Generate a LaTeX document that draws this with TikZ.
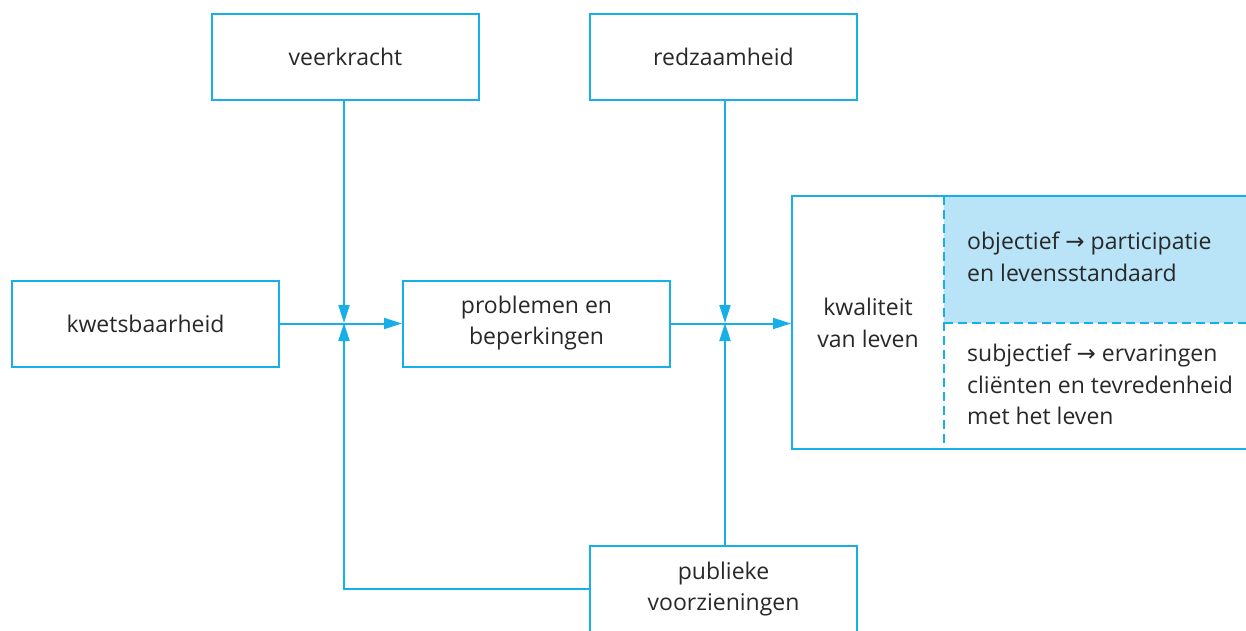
\documentclass[tikz,border=0pt]{standalone}
\usepackage{fontspec}
\setmainfont{Open Sans}
\newfontfamily\arrowfont{DejaVu Sans}
\usetikzlibrary{arrows.meta}
\definecolor{lineblue}{RGB}{22,175,232}
\definecolor{fillblue}{RGB}{185,228,248}
\definecolor{txt}{RGB}{40,40,40}
\newcommand{\ra}{{\arrowfont\fontsize{23}{31}\selectfont →}}
\begin{document}
\begin{tikzpicture}[x=1pt,y=-1pt,
 box/.style={draw=lineblue, line width=2pt, minimum width=267pt, minimum height=86pt, inner sep=0pt, align=center, text=txt, font=\fontsize{23}{31}\selectfont},
 lbl/.style={inner sep=0pt, align=left, text=txt, font=\fontsize{23}{31.5}\selectfont},
 conn/.style={draw=lineblue, line width=2pt},
 arr/.style={conn, -{Triangle[length=18pt,width=11pt]}},
 sep/.style={draw=lineblue, line width=1.5pt, dash pattern=on 9pt off 5pt}]
\useasboundingbox (0,0) rectangle (1246,630);
\clip (0,0) rectangle (1246,630);
% coordinates
\coordinate (j1) at (344,323);
\coordinate (j2) at (725,323);
% quality box
\fill[fillblue] (944,196) rectangle (1262,323);
\node[box, minimum width=470pt, minimum height=253pt] (kl) at (1027,322.5) {};
\coordinate (dtop) at (944,196);
\coordinate (dbot) at (944,449);
\coordinate (hl) at (944,323);
\coordinate (hr) at (1262,323);
\draw[sep] (dtop) -- (dbot);
\draw[sep] (hl) -- (hr);
\node[lbl, align=center] (klt) at (868,323) {kwaliteit\\van leven};
\node[lbl, anchor=north west] (obj) at (967,232) {objectief \ra{} participatie\\en levensstandaard};
\node[lbl, anchor=north west] (sub) at (967,344) {subjectief \ra{} ervaringen\\cliënten en tevredenheid\\met het leven};
% boxes
\node[box] (vk) at (345.5,57) {veerkracht};
\node[box] (rz) at (723.5,57) {redzaamheid};
\node[box] (kw) at (145.5,323.5) {kwetsbaarheid};
\node[box] (pb) at (536.5,323.5) {problemen en\\beperkingen};
\node[box] (pub) at (723.5,589) {publieke\\voorzieningen};
% connectors
\draw[arr] (kw.east) -- (pb.west);
\draw[arr] (pb.east) -- (kl.west |- pb.east);
\draw[arr] (vk.south -| j1) -- (j1);
\draw[arr] (rz.south -| j2) -- (j2);
\draw[arr] (pub.north -| j2) -- (j2);
\draw[arr] (pub.west) -| (j1);
\end{tikzpicture}
\end{document}
